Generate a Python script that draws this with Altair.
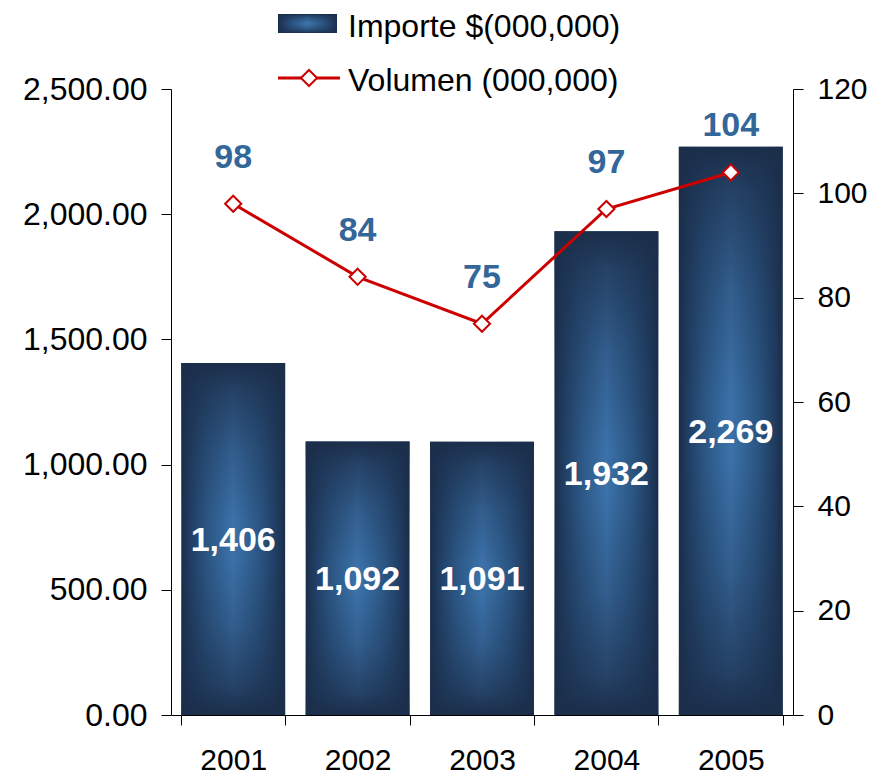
import altair as alt
import pandas as pd

years = ["2001", "2002", "2003", "2004", "2005"]
importe = [1406, 1092, 1091, 1932, 2269]
volumen = [98, 84, 75, 97, 104]
left_ticks = [0, 500, 1000, 1500, 2000, 2500]
right_ticks = [0, 20, 40, 60, 80, 100, 120]
legend_labels = ["Importe $(000,000)", "Volumen (000,000)"]

df = pd.DataFrame({"year": years, "importe": importe, "volumen": volumen})
df["mid"] = df["importe"] / 2

FONT = "Liberation Sans"
RED = "#cc0000"
LBLUE = "#336699"

hgrad = alt.Gradient(
    gradient="linear", x1=0, x2=1, y1=0, y2=0,
    stops=[
        alt.GradientStop(color="#1a2d48", offset=0),
        alt.GradientStop(color="#203c61", offset=0.08),
        alt.GradientStop(color="#2b5684", offset=0.25),
        alt.GradientStop(color="#3c72aa", offset=0.5),
        alt.GradientStop(color="#2b5684", offset=0.75),
        alt.GradientStop(color="#203c61", offset=0.92),
        alt.GradientStop(color="#1a2d48", offset=1),
    ],
)
vgrad = alt.Gradient(
    gradient="linear", x1=0, x2=0, y1=0, y2=1,
    stops=[
        alt.GradientStop(color="rgba(27,46,74,1)", offset=0),
        alt.GradientStop(color="rgba(27,46,74,0.7)", offset=0.08),
        alt.GradientStop(color="rgba(27,46,74,0.3)", offset=0.25),
        alt.GradientStop(color="rgba(27,46,74,0)", offset=0.45),
        alt.GradientStop(color="rgba(27,46,74,0)", offset=0.55),
        alt.GradientStop(color="rgba(27,46,74,0.3)", offset=0.75),
        alt.GradientStop(color="rgba(27,46,74,0.7)", offset=0.92),
        alt.GradientStop(color="rgba(27,46,74,1)", offset=1),
    ],
)

axis_common = dict(
    labelFont=FONT, labelColor="black",
    tickColor="black", domainColor="black", tickSize=10,
    grid=False, title=None, domainWidth=1, tickWidth=1,
)

xenc = alt.X(
    "year:N", sort=years, title=None,
    scale=alt.Scale(paddingInner=0.165, paddingOuter=0.0825),
    axis=alt.Axis(labelAngle=0, tickBand="extent", labelPadding=20, labelFontSize=30, **axis_common),
)

base = alt.Chart(df).encode(x=xenc)

yleft = alt.Y(
    "importe:Q", title=None,
    scale=alt.Scale(domain=[0, 2500], nice=False),
    axis=alt.Axis(values=left_ticks, format=",.2f", labelPadding=14, labelFontSize=32,
                  orient="left", **axis_common),
)
bars = base.mark_bar(color=hgrad).encode(y=yleft)
overlay = base.mark_bar(color=vgrad).encode(y=alt.Y("importe:Q", title=None))
bar_text = base.mark_text(
    font=FONT, fontSize=34, fontWeight="bold", color="white", baseline="alphabetic", dy=12
).encode(y=alt.Y("mid:Q", title=None), text=alt.Text("importe:Q", format=","))

left = alt.layer(bars, overlay, bar_text)

yright = alt.Y(
    "volumen:Q", title=None,
    scale=alt.Scale(domain=[0, 120], nice=False),
    axis=alt.Axis(values=right_ticks, format="d", labelPadding=14, labelFontSize=30,
                  orient="right", **axis_common),
)
line = base.mark_line(color=RED, strokeWidth=3).encode(y=yright)
points = base.mark_point(
    shape="diamond", filled=True, fill="white", stroke=RED, strokeWidth=2, size=260, opacity=1
).encode(y=alt.Y("volumen:Q", title=None))
vol_text = base.mark_text(
    font=FONT, fontSize=34, fontWeight="bold", color=LBLUE, baseline="alphabetic", dy=-36
).encode(y=alt.Y("volumen:Q", title=None), text=alt.Text("volumen:Q"))

right = alt.layer(line, points, vol_text)

leg = alt.Chart(pd.DataFrame({"k": [0]}))
leg_rect = leg.mark_rect(color=hgrad).encode(
    x=alt.value(107), x2=alt.value(166), y=alt.value(-75), y2=alt.value(-56)
)
leg_rect2 = leg.mark_rect(color=vgrad).encode(
    x=alt.value(107), x2=alt.value(166), y=alt.value(-75), y2=alt.value(-56)
)
leg_text1 = leg.mark_text(
    font=FONT, fontSize=32, align="left", baseline="alphabetic", color="black"
).encode(x=alt.value(177), y=alt.value(-52), text=alt.value(legend_labels[0]))
leg_rule = leg.mark_rule(color=RED, strokeWidth=3).encode(
    x=alt.value(107), x2=alt.value(169), y=alt.value(-11)
)
leg_pt = leg.mark_point(
    shape="diamond", filled=True, fill="white", stroke=RED, strokeWidth=2, size=260, opacity=1
).encode(x=alt.value(138), y=alt.value(-11))
leg_text2 = leg.mark_text(
    font=FONT, fontSize=32, align="left", baseline="alphabetic", color="black"
).encode(x=alt.value(177), y=alt.value(2), text=alt.value(legend_labels[1]))

chart = (
    alt.layer(left, right, leg_rect, leg_rect2, leg_text1, leg_rule, leg_pt, leg_text2)
    .resolve_scale(y="independent")
    .properties(
        width=622, height=626,
        autosize=alt.AutoSizeParams(type="none"),
        padding={"left": 163, "top": 81, "right": 75, "bottom": 64},
    )
    .configure_view(stroke=None)
)

chart.save("out.html", embed_options={"renderer": "svg", "actions": False})
